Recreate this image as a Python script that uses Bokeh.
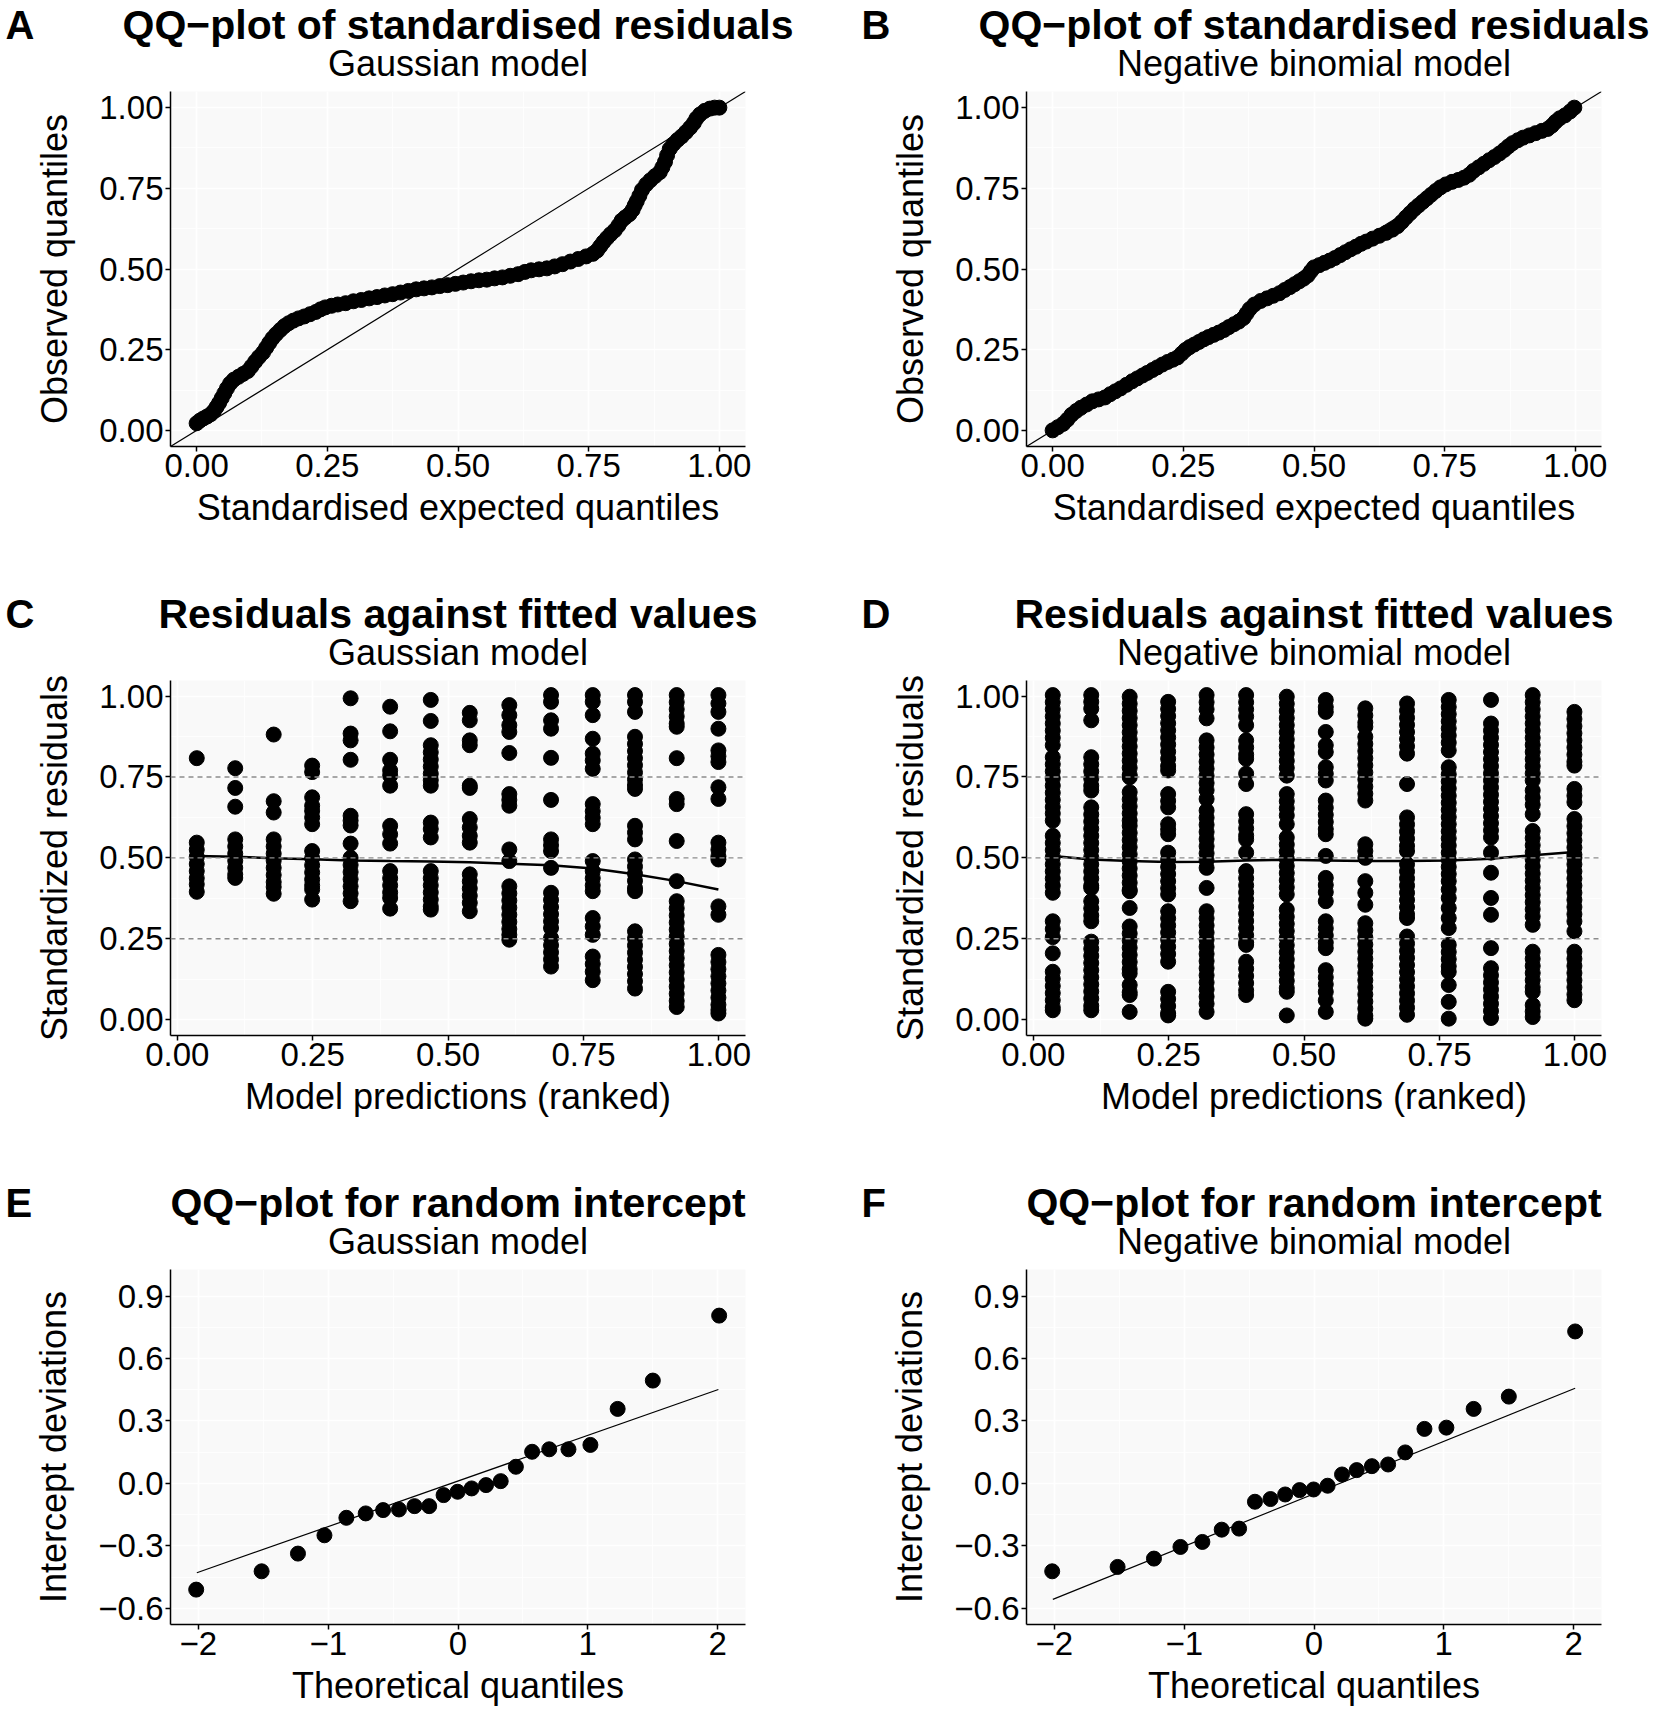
from bokeh.plotting import figure
from bokeh.models import Range1d, FixedTicker, Span, Slope, NumeralTickFormatter
from bokeh.layouts import column, row
from bokeh.core.properties import value
from bokeh.embed import file_html
from bokeh.resources import INLINE

FONT = "Liberation Sans"

# ---------------- Panel A: QQ Gaussian ----------------
a_x = [0.000, 0.006, 0.013, 0.020, 0.027, 0.033, 0.038, 0.043, 0.048, 0.053, 0.058, 0.064,
       0.071, 0.080, 0.089, 0.098, 0.105, 0.112, 0.119, 0.127, 0.133, 0.139, 0.145, 0.152,
       0.160, 0.168, 0.176, 0.185, 0.195, 0.206, 0.217, 0.228, 0.237, 0.246,
       0.258, 0.270, 0.285, 0.300, 0.315, 0.330, 0.345, 0.360, 0.375, 0.390, 0.405, 0.420,
       0.435, 0.450, 0.465, 0.480, 0.495, 0.510, 0.525, 0.540, 0.555, 0.570, 0.585, 0.600,
       0.615, 0.628, 0.640, 0.655, 0.670, 0.685, 0.700, 0.715, 0.730, 0.745, 0.758,
       0.766, 0.772, 0.778, 0.785, 0.792, 0.800, 0.807, 0.813, 0.820, 0.828, 0.834, 0.838,
       0.842, 0.847, 0.852, 0.860, 0.868, 0.877, 0.886, 0.891, 0.896, 0.900, 0.905, 0.912,
       0.920, 0.928, 0.936, 0.944, 0.951, 0.956, 0.963, 0.972, 0.982, 0.991, 1.000]
a_y = [0.022, 0.030, 0.037, 0.043, 0.050, 0.060, 0.072, 0.085, 0.100, 0.115, 0.130, 0.145,
       0.157, 0.166, 0.175, 0.184, 0.198, 0.213, 0.227, 0.241, 0.256, 0.271, 0.285, 0.298,
       0.311, 0.323, 0.332, 0.340, 0.347, 0.353, 0.360, 0.367, 0.375, 0.381,
       0.386, 0.390, 0.394, 0.400, 0.404, 0.409, 0.413, 0.418, 0.422, 0.427, 0.432, 0.437,
       0.440, 0.443, 0.447, 0.450, 0.454, 0.458, 0.462, 0.465, 0.467, 0.471, 0.474, 0.479,
       0.484, 0.491, 0.496, 0.499, 0.502, 0.508, 0.515, 0.523, 0.531, 0.539, 0.547,
       0.557, 0.570, 0.583, 0.596, 0.608, 0.620, 0.635, 0.650, 0.660, 0.670, 0.683, 0.697,
       0.710, 0.727, 0.745, 0.762, 0.775, 0.788, 0.800, 0.815, 0.832, 0.852, 0.872, 0.887,
       0.900, 0.911, 0.924, 0.938, 0.952, 0.966, 0.979, 0.990, 0.997, 1.000, 1.000]

# ---------------- Panel B: QQ Negative binomial ----------------
b_x = [0.000, 0.010, 0.020, 0.028, 0.036, 0.045, 0.054, 0.065, 0.076, 0.088, 0.100, 0.110,
       0.120, 0.130, 0.141, 0.152, 0.162, 0.172, 0.181, 0.191, 0.200, 0.210, 0.220, 0.230,
       0.239, 0.247, 0.254, 0.262, 0.271, 0.280, 0.289, 0.298, 0.308, 0.318, 0.328, 0.337,
       0.347, 0.356, 0.365, 0.371, 0.377, 0.386, 0.398, 0.410, 0.422, 0.434, 0.444, 0.454,
       0.463, 0.472, 0.480, 0.488, 0.494, 0.500, 0.510, 0.520, 0.530, 0.540, 0.550, 0.560,
       0.570, 0.580, 0.590, 0.600, 0.612, 0.625, 0.638, 0.650, 0.660, 0.668, 0.676, 0.684,
       0.692, 0.700, 0.708, 0.716, 0.724, 0.733, 0.742, 0.752, 0.764, 0.776, 0.787, 0.797,
       0.805, 0.815, 0.825, 0.835, 0.845, 0.855, 0.864, 0.872, 0.880, 0.890, 0.900, 0.912,
       0.924, 0.936, 0.947, 0.955, 0.962, 0.970, 0.980, 0.990, 0.998]
b_y = [0.000, 0.010, 0.020, 0.033, 0.048, 0.060, 0.070, 0.080, 0.090, 0.096, 0.102, 0.112,
       0.121, 0.130, 0.141, 0.152, 0.161, 0.170, 0.178, 0.187, 0.195, 0.204, 0.212, 0.219,
       0.226, 0.238, 0.249, 0.258, 0.266, 0.274, 0.282, 0.289, 0.296, 0.303, 0.311, 0.320,
       0.329, 0.337, 0.348, 0.362, 0.376, 0.390, 0.401, 0.409, 0.417, 0.425, 0.435, 0.444,
       0.453, 0.462, 0.470, 0.480, 0.493, 0.505, 0.512, 0.519, 0.526, 0.534, 0.543, 0.552,
       0.561, 0.569, 0.578, 0.585, 0.594, 0.603, 0.612, 0.622, 0.633, 0.646, 0.660, 0.673,
       0.686, 0.697, 0.708, 0.719, 0.730, 0.742, 0.753, 0.762, 0.770, 0.776, 0.783, 0.792,
       0.804, 0.815, 0.826, 0.837, 0.847, 0.858, 0.869, 0.880, 0.890, 0.899, 0.907, 0.914,
       0.921, 0.928, 0.934, 0.944, 0.956, 0.967, 0.976, 0.988, 1.000]

# ---------------- Panels C / D: residuals vs ranked predictions ----------------
rank_x = [0.036, 0.107, 0.178, 0.249, 0.320, 0.393, 0.468, 0.540, 0.613, 0.690, 0.767, 0.845, 0.922, 0.999]

c_cols = [
    [0.808, 0.547, 0.525, 0.503, 0.481, 0.459, 0.437, 0.418, 0.395],
    [0.777, 0.716, 0.658, 0.557, 0.535, 0.513, 0.491, 0.469, 0.449, 0.438],
    [0.881, 0.675, 0.640, 0.557, 0.535, 0.513, 0.491, 0.469, 0.447, 0.425, 0.410, 0.389],
    [0.785, 0.765, 0.687, 0.661, 0.645, 0.625, 0.604, 0.521, 0.499, 0.477, 0.455, 0.433, 0.415, 0.402, 0.371],
    [0.993, 0.884, 0.863, 0.803, 0.630, 0.615, 0.600, 0.544, 0.500, 0.478, 0.456, 0.434, 0.412, 0.390, 0.366],
    [0.967, 0.891, 0.803, 0.770, 0.754, 0.723, 0.599, 0.573, 0.544, 0.459, 0.437, 0.415, 0.393, 0.376, 0.343],
    [0.988, 0.923, 0.848, 0.826, 0.804, 0.782, 0.760, 0.740, 0.723, 0.609, 0.589, 0.563, 0.459, 0.437,
     0.415, 0.393, 0.371, 0.350, 0.340],
    [0.948, 0.925, 0.863, 0.848, 0.723, 0.716, 0.620, 0.594, 0.568, 0.547, 0.449, 0.427, 0.405, 0.383,
     0.361, 0.335],
    [0.972, 0.941, 0.910, 0.889, 0.824, 0.697, 0.679, 0.661, 0.526, 0.490, 0.412, 0.390, 0.368, 0.346,
     0.324, 0.302, 0.280, 0.262, 0.247],
    [1.003, 0.982, 0.925, 0.899, 0.809, 0.679, 0.557, 0.539, 0.521, 0.469, 0.392, 0.370, 0.348, 0.326,
     0.304, 0.283, 0.252, 0.230, 0.208, 0.186, 0.164],
    [1.003, 0.982, 0.941, 0.868, 0.822, 0.801, 0.775, 0.666, 0.644, 0.624, 0.604, 0.490, 0.459, 0.437,
     0.415, 0.397, 0.314, 0.288, 0.262, 0.195, 0.172, 0.148, 0.122],
    [1.003, 0.982, 0.951, 0.874, 0.852, 0.830, 0.808, 0.786, 0.764, 0.742, 0.725, 0.713, 0.599, 0.578,
     0.557, 0.495, 0.473, 0.451, 0.429, 0.407, 0.397, 0.273, 0.251, 0.229, 0.207, 0.185, 0.163, 0.141,
     0.119, 0.096],
    [1.003, 0.981, 0.959, 0.937, 0.915, 0.905, 0.808, 0.682, 0.666, 0.552, 0.428, 0.366, 0.344, 0.322,
     0.300, 0.278, 0.256, 0.234, 0.212, 0.190, 0.168, 0.146, 0.124, 0.102, 0.080, 0.058, 0.039],
    [1.003, 0.977, 0.951, 0.899, 0.832, 0.814, 0.796, 0.718, 0.682, 0.547, 0.525, 0.505, 0.495, 0.350,
     0.324, 0.200, 0.178, 0.156, 0.134, 0.112, 0.090, 0.068, 0.046, 0.030, 0.019],
]
c_smooth = [0.506, 0.503, 0.499, 0.496, 0.492, 0.490, 0.489, 0.486, 0.482, 0.477, 0.467, 0.449, 0.428, 0.402]

d_cols = [
    [1.003, 0.981, 0.959, 0.937, 0.915, 0.893, 0.871, 0.848, 0.811, 0.789, 0.767, 0.745, 0.723, 0.701,
     0.679, 0.657, 0.637, 0.615, 0.568, 0.546, 0.524, 0.502, 0.480, 0.458, 0.436, 0.414, 0.392, 0.304,
     0.280, 0.255, 0.205, 0.148, 0.126, 0.104, 0.082, 0.060, 0.038, 0.029],
    [1.003, 0.982, 0.961, 0.925, 0.811, 0.789, 0.767, 0.745, 0.723, 0.708, 0.656, 0.634, 0.612, 0.590,
     0.568, 0.546, 0.524, 0.502, 0.480, 0.458, 0.436, 0.414, 0.407, 0.366, 0.344, 0.322, 0.304, 0.241,
     0.219, 0.197, 0.175, 0.153, 0.131, 0.109, 0.087, 0.065, 0.043, 0.029],
    [0.998, 0.976, 0.954, 0.932, 0.910, 0.888, 0.866, 0.844, 0.822, 0.800, 0.778, 0.756, 0.749, 0.703,
     0.681, 0.659, 0.637, 0.615, 0.599, 0.577, 0.555, 0.533, 0.511, 0.489, 0.467, 0.445, 0.423, 0.401,
     0.397, 0.345, 0.288, 0.266, 0.244, 0.222, 0.200, 0.178, 0.156, 0.143, 0.107, 0.085, 0.076, 0.024],
    [0.982, 0.960, 0.938, 0.916, 0.894, 0.872, 0.850, 0.828, 0.806, 0.784, 0.770, 0.697, 0.676, 0.656,
     0.604, 0.588, 0.573, 0.516, 0.494, 0.472, 0.450, 0.428, 0.406, 0.387, 0.335, 0.313, 0.291, 0.269,
     0.247, 0.225, 0.203, 0.179, 0.086, 0.064, 0.042, 0.020, 0.013],
    [1.003, 0.981, 0.959, 0.931, 0.863, 0.841, 0.819, 0.797, 0.775, 0.753, 0.731, 0.709, 0.682, 0.646,
     0.624, 0.602, 0.580, 0.558, 0.536, 0.514, 0.492, 0.469, 0.407, 0.335, 0.313, 0.291, 0.269, 0.247,
     0.225, 0.203, 0.181, 0.159, 0.137, 0.115, 0.093, 0.071, 0.049, 0.024],
    [1.003, 0.981, 0.959, 0.937, 0.910, 0.863, 0.841, 0.819, 0.806, 0.760, 0.728, 0.635, 0.613, 0.591,
     0.569, 0.557, 0.516, 0.459, 0.437, 0.415, 0.393, 0.371, 0.349, 0.327, 0.305, 0.283, 0.261, 0.239,
     0.231, 0.179, 0.157, 0.135, 0.113, 0.091, 0.076],
    [0.998, 0.976, 0.954, 0.932, 0.910, 0.888, 0.866, 0.844, 0.822, 0.800, 0.778, 0.754, 0.697, 0.675,
     0.653, 0.631, 0.604, 0.563, 0.541, 0.519, 0.497, 0.475, 0.453, 0.431, 0.409, 0.387, 0.340, 0.318,
     0.296, 0.274, 0.252, 0.230, 0.208, 0.186, 0.164, 0.142, 0.120, 0.098, 0.086, 0.013],
    [0.988, 0.966, 0.951, 0.889, 0.848, 0.827, 0.780, 0.760, 0.739, 0.677, 0.655, 0.633, 0.611, 0.589,
     0.573, 0.506, 0.438, 0.416, 0.394, 0.366, 0.304, 0.282, 0.260, 0.238, 0.221, 0.153, 0.131, 0.109,
     0.086, 0.060, 0.024],
    [0.962, 0.940, 0.918, 0.905, 0.874, 0.852, 0.830, 0.808, 0.786, 0.764, 0.742, 0.720, 0.698, 0.677,
     0.542, 0.521, 0.500, 0.428, 0.392, 0.355, 0.298, 0.276, 0.254, 0.232, 0.210, 0.188, 0.166, 0.144,
     0.122, 0.100, 0.078, 0.056, 0.034, 0.012, 0.003],
    [0.977, 0.955, 0.933, 0.911, 0.889, 0.867, 0.845, 0.822, 0.728, 0.625, 0.603, 0.581, 0.559, 0.537,
     0.521, 0.480, 0.458, 0.436, 0.414, 0.392, 0.370, 0.348, 0.326, 0.314, 0.257, 0.235, 0.213, 0.191,
     0.169, 0.147, 0.125, 0.103, 0.081, 0.059, 0.037, 0.015],
    [0.988, 0.966, 0.944, 0.922, 0.900, 0.878, 0.856, 0.832, 0.780, 0.758, 0.736, 0.714, 0.692, 0.670,
     0.648, 0.626, 0.604, 0.582, 0.560, 0.538, 0.516, 0.494, 0.472, 0.450, 0.428, 0.402, 0.376, 0.345,
     0.314, 0.283, 0.231, 0.209, 0.187, 0.165, 0.148, 0.107, 0.055, 0.003],
    [0.988, 0.915, 0.893, 0.871, 0.849, 0.827, 0.805, 0.783, 0.761, 0.739, 0.717, 0.695, 0.673, 0.651,
     0.629, 0.607, 0.585, 0.563, 0.516, 0.454, 0.376, 0.324, 0.221, 0.159, 0.137, 0.115, 0.093, 0.071,
     0.049, 0.027, 0.005],
    [1.003, 0.981, 0.959, 0.937, 0.915, 0.893, 0.871, 0.849, 0.827, 0.805, 0.783, 0.761, 0.739, 0.708,
     0.686, 0.664, 0.635, 0.583, 0.561, 0.539, 0.517, 0.495, 0.473, 0.451, 0.429, 0.407, 0.385, 0.363,
     0.341, 0.319, 0.293, 0.210, 0.188, 0.166, 0.144, 0.122, 0.100, 0.086, 0.045, 0.025, 0.008],
    [0.951, 0.929, 0.907, 0.885, 0.863, 0.841, 0.819, 0.797, 0.785, 0.713, 0.692, 0.672, 0.620, 0.598,
     0.576, 0.554, 0.532, 0.510, 0.500, 0.480, 0.458, 0.436, 0.414, 0.392, 0.370, 0.348, 0.326, 0.304,
     0.273, 0.210, 0.188, 0.166, 0.144, 0.122, 0.100, 0.078, 0.060],
]
d_smooth = [0.506, 0.495, 0.490, 0.487, 0.488, 0.492, 0.494, 0.492, 0.490, 0.490, 0.492, 0.497, 0.508, 0.518]

# ---------------- Panels E / F: random intercept QQ ----------------
theo_q = [-2.017, -1.513, -1.233, -1.029, -0.860, -0.711, -0.577, -0.455, -0.335, -0.222, -0.111,
          -0.003, 0.105, 0.216, 0.329, 0.446, 0.571, 0.703, 0.851, 1.020, 1.230, 1.501, 2.012]
e_y = [-0.510, -0.422, -0.337, -0.249, -0.165, -0.144, -0.128, -0.125, -0.109, -0.109, -0.056,
       -0.040, -0.024, -0.008, 0.011, 0.080, 0.152, 0.164, 0.164, 0.185, 0.358, 0.494, 0.806]
f_y = [-0.422, -0.401, -0.361, -0.305, -0.281, -0.222, -0.217, -0.088, -0.075, -0.053, -0.032,
       -0.029, -0.011, 0.043, 0.064, 0.083, 0.091, 0.149, 0.262, 0.268, 0.358, 0.417, 0.730]
e_line_x = [-2.012, 2.006]
e_line_y = [-0.429, 0.451]
f_line_x = [-2.012, 2.012]
f_line_y = [-0.557, 0.457]

unit_ticks = [0.0, 0.25, 0.5, 0.75, 1.0]
unit_minor = [0.125, 0.375, 0.625, 0.875]
q_xticks = [-2, -1, 0, 1, 2]
q_xminor = [-1.5, -0.5, 0.5, 1.5]
q_yticks = [-0.6, -0.3, 0.0, 0.3, 0.6, 0.9]
q_yminor = [-0.45, -0.15, 0.15, 0.45, 0.75]
q_xlabels = {-2: "\u22122", -1: "\u22121", 0: "0", 1: "1", 2: "2"}
q_ylabels = {-0.6: "\u22120.6", -0.3: "\u22120.3", 0.0: "0.0", 0.3: "0.3", 0.6: "0.6", 0.9: "0.9"}

FRAME_W, FRAME_H = 575, 355
WIDTH = 827
HEAD_H = 86
TOP = 5
PLOT_H = 503
LAST_H = 447
PT = 15
TITLE_Y = 62
SUB_Y = 23


def frame_left(right_col):
    return 199 if right_col else 170


def header(letter, title, subtitle, right_col):
    left = frame_left(right_col)
    h = figure(width=WIDTH, height=HEAD_H, x_range=Range1d(0, WIDTH), y_range=Range1d(0, HEAD_H),
               output_backend="svg", toolbar_location=None, title_location=None,
               min_border=0, min_border_left=0, min_border_right=0, min_border_top=0, min_border_bottom=0,
               x_axis_type=None, y_axis_type=None)
    h.outline_line_color = None
    h.background_fill_color = "white"
    h.border_fill_color = "white"
    cx = left + FRAME_W / 2
    h.text(x=[left - 165], y=[TITLE_Y], text=[letter], text_font=value(FONT), text_font_size=value("40px"),
           text_font_style="bold", text_align="left", text_baseline="alphabetic", text_color="black")
    h.text(x=[cx], y=[TITLE_Y], text=[title], text_font=value(FONT), text_font_size=value("41px"),
           text_font_style="bold", text_align="center", text_baseline="alphabetic", text_color="black")
    h.text(x=[cx], y=[SUB_Y], text=[subtitle], text_font=value(FONT), text_font_size=value("36px"),
           text_font_style="normal", text_align="center", text_baseline="alphabetic", text_color="black")
    return h


def panel(xlab, ylab, xr, yr, xt, xm, yt, ym, right_col, height, xover=None, yover=None):
    left = frame_left(right_col)
    p = figure(width=WIDTH, height=height, x_range=Range1d(*xr), y_range=Range1d(*yr),
               output_backend="svg", toolbar_location=None, title_location=None,
               min_border_left=left, min_border_right=WIDTH - left - FRAME_W,
               min_border_top=TOP, min_border_bottom=height - TOP - FRAME_H)
    p.background_fill_color = "#F9F9F9"
    p.border_fill_color = "white"
    p.outline_line_color = None

    xtk = FixedTicker(ticks=xt, minor_ticks=xm)
    ytk = FixedTicker(ticks=yt, minor_ticks=ym)
    p.xaxis.ticker = xtk
    p.yaxis.ticker = ytk
    p.xgrid.ticker = xtk
    p.ygrid.ticker = ytk
    for g in (p.xgrid[0], p.ygrid[0]):
        g.grid_line_color = "white"
        g.grid_line_width = 1.6
        g.minor_grid_line_color = "white"
        g.minor_grid_line_width = 0.8

    for ax in (p.xaxis[0], p.yaxis[0]):
        ax.axis_line_color = "black"
        ax.axis_line_width = 1.5
        ax.major_tick_line_color = "black"
        ax.major_tick_line_width = 1.5
        ax.major_tick_out = 5
        ax.major_tick_in = 0
        ax.minor_tick_out = 0
        ax.minor_tick_in = 0
        ax.major_label_text_font = FONT
        ax.major_label_text_font_size = "33px"
        ax.major_label_text_color = "black"
        ax.axis_label_text_font = FONT
        ax.axis_label_text_font_size = "36px"
        ax.axis_label_text_font_style = "normal"
        ax.axis_label_text_color = "black"
    p.xaxis.axis_label = xlab
    p.yaxis.axis_label = ylab
    p.xaxis.major_label_standoff = 2
    p.yaxis.major_label_standoff = 2
    p.xaxis.axis_label_standoff = 7
    p.yaxis.axis_label_standoff = 21
    if xover is None:
        p.xaxis.formatter = NumeralTickFormatter(format="0.00")
    else:
        p.xaxis.major_label_overrides = xover
    if yover is None:
        p.yaxis.formatter = NumeralTickFormatter(format="0.00")
    else:
        p.yaxis.major_label_overrides = yover
    return p


# A
hA = header("A", "QQ\u2212plot of standardised residuals", "Gaussian model", False)
pA = panel("Standardised expected quantiles", "Observed quantiles",
           (-0.05, 1.05), (-0.05, 1.05), unit_ticks, unit_minor, unit_ticks, unit_minor, False, PLOT_H)
pA.scatter(a_x, a_y, size=PT, color="black")
pA.add_layout(Slope(gradient=1, y_intercept=0, line_color="black", line_width=1.2))

# B
hB = header("B", "QQ\u2212plot of standardised residuals", "Negative binomial model", True)
pB = panel("Standardised expected quantiles", "Observed quantiles",
           (-0.05, 1.05), (-0.05, 1.05), unit_ticks, unit_minor, unit_ticks, unit_minor, True, PLOT_H)
pB.scatter(b_x, b_y, size=PT, color="black")
pB.add_layout(Slope(gradient=1, y_intercept=0, line_color="black", line_width=1.2))


def resid_panel(cols, smooth, right_col):
    p = panel("Model predictions (ranked)", "Standardized residuals",
              (-0.0125, 1.049), (-0.049, 1.048), unit_ticks, unit_minor, unit_ticks, unit_minor,
              right_col, PLOT_H)
    for lvl in (0.25, 0.5, 0.75):
        p.add_layout(Span(location=lvl, dimension="width", line_color="#8c8c8c",
                          line_width=1.4, line_dash="5 4"))
    xs, ys = [], []
    for xv, col in zip(rank_x, cols):
        for yv in col:
            xs.append(xv)
            ys.append(yv)
    p.scatter(xs, ys, size=PT, color="black")
    p.line(rank_x, smooth, line_color="black", line_width=2.5)
    return p


hC = header("C", "Residuals against fitted values", "Gaussian model", False)
pC = resid_panel(c_cols, c_smooth, False)
hD = header("D", "Residuals against fitted values", "Negative binomial model", True)
pD = resid_panel(d_cols, d_smooth, True)


def ri_panel(yv, lx, ly, right_col):
    p = panel("Theoretical quantiles", "Intercept deviations",
              (-2.215, 2.215), (-0.6775, 1.0275), q_xticks, q_xminor, q_yticks, q_yminor,
              right_col, LAST_H, xover=q_xlabels, yover=q_ylabels)
    p.line(lx, ly, line_color="black", line_width=1.2)
    p.scatter(theo_q, yv, size=PT, color="black")
    return p


hE = header("E", "QQ\u2212plot for random intercept", "Gaussian model", False)
pE = ri_panel(e_y, e_line_x, e_line_y, False)
hF = header("F", "QQ\u2212plot for random intercept", "Negative binomial model", True)
pF = ri_panel(f_y, f_line_x, f_line_y, True)

layout = column(row(hA, hB), row(pA, pB), row(hC, hD), row(pC, pD), row(hE, hF), row(pE, pF))

open("out.html", "w").write(file_html(layout, INLINE))
